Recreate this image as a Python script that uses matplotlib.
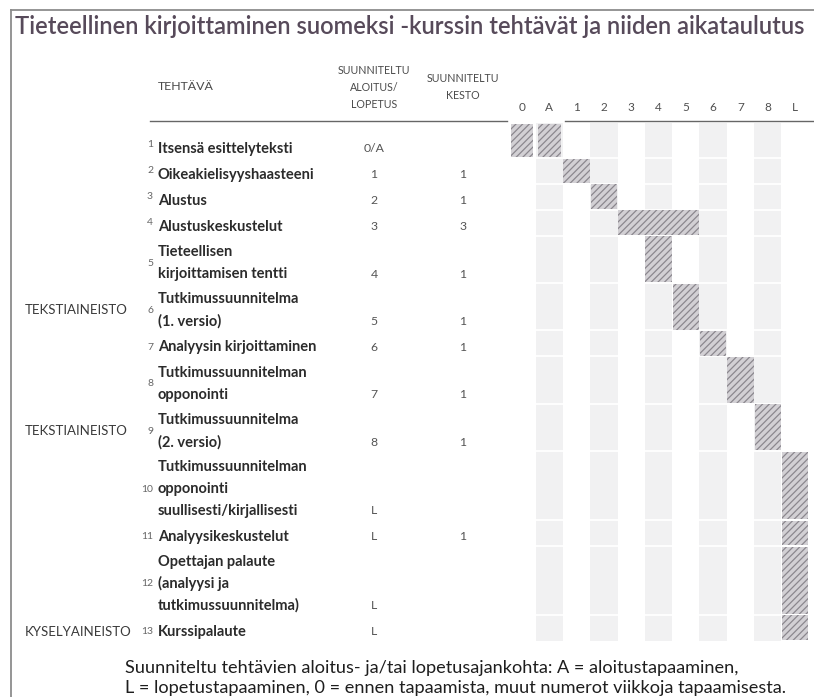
import numpy as np
import matplotlib
matplotlib.use("Agg")
import matplotlib.pyplot as plt

# ---------------- data ----------------
title = "Tieteellinen kirjoittaminen suomeksi -kurssin tehtävät ja niiden aikataulutus"
task_numbers = ["1", "2", "3", "4", "5", "6", "7", "8", "9", "10", "11", "12", "13"]
tasks = [
    "Itsensä esittelyteksti",
    "Oikeakielisyyshaasteeni",
    "Alustus",
    "Alustuskeskustelut",
    "Tieteellisen\nkirjoittamisen tentti",
    "Tutkimussuunnitelma\n(1. versio)",
    "Analyysin kirjoittaminen",
    "Tutkimussuunnitelman\nopponointi",
    "Tutkimussuunnitelma\n(2. versio)",
    "Tutkimussuunnitelman\nopponointi\nsuullisesti/kirjallisesti",
    "Analyysikeskustelut",
    "Opettajan palaute\n(analyysi ja\ntutkimussuunnitelma)",
    "Kurssipalaute",
]
material = ["", "", "", "", "", "TEKSTIAINEISTO", "", "", "TEKSTIAINEISTO",
            "", "", "", "KYSELYAINEISTO"]
planned_start = ["0/A", "1", "2", "3", "4", "5", "6", "7", "8", "L", "L", "L", "L"]
planned_duration = ["", "1", "1", "3", "1", "1", "1", "1", "1", "", "1", "", ""]
weeks = ["0", "A", "1", "2", "3", "4", "5", "6", "7", "8", "L"]
header_task = "TEHTÄVÄ"
header_start = ["SUUNNITELTU", "ALOITUS/", "LOPETUS"]
header_duration = ["SUUNNITELTU", "KESTO"]
footnote = [
    "Suunniteltu tehtävien aloitus- ja/tai lopetusajankohta: A = aloitustapaaminen,",
    "L = lopetustapaaminen, 0 = ennen tapaamista, muut numerot viikkoja tapaamisesta.",
]

# ---------------- style / layout ----------------
plt.rcParams["font.family"] = ["Lato", "DejaVu Sans"]
plt.rcParams["hatch.linewidth"] = 0.9

W, H = 814, 697
fig = plt.figure(figsize=(W / 100, H / 100), dpi=100)
base = fig.add_axes([0, 0, 1, 1])
base.set_xlim(0, W)
base.set_ylim(H, 0)
base.axis("off")
renderer = fig.canvas.get_renderer()


def fit_group(texts, sample, target):
    w = sample.get_window_extent(renderer).width
    k = target / w
    for t in texts:
        t.set_fontsize(t.get_fontsize() * k)


TOP = 123          # top of the task table (px)
FIRST_PAD = 9
LINE = 21.5
PAD = 4.4
TXT_LINE = 22
nlines = [t.count("\n") + 1 for t in tasks]
heights = [PAD + LINE * n for n in nlines]
heights[0] += FIRST_PAD
bounds = np.concatenate([[0], np.cumsum(heights)])
total = bounds[-1]

# frame
frame_c = "#8c8c8c"
base.plot([11, 11], [10, H], color=frame_c, lw=1.3)
base.plot([11, W], [10, 10], color=frame_c, lw=1.3)

# title
t_title = base.text(15, 26, title, ha="left", va="center", fontsize=15,
                    fontweight="semibold", color="#574a5a")
fit_group([t_title], t_title, 796)

# table headers
hc = "#4a4a4a"
t_h1 = base.text(158, 87, header_task, ha="left", va="center", fontsize=8, color=hc)
fit_group([t_h1], t_h1, 56)
hs = []
for i, s in enumerate(header_start):
    hs.append(base.text(374, 70 + 17.5 * i, s, ha="center", va="center", fontsize=7, color=hc))
for i, s in enumerate(header_duration):
    hs.append(base.text(463, 78 + 17.5 * i, s, ha="center", va="center", fontsize=7, color=hc))
fit_group(hs, hs[0], 72)

# header rules
base.plot([150, 507], [121, 121], color="#666666", lw=1.0)
base.plot([565, W], [121, 121], color="#666666", lw=1.0)

# table body
task_texts, num_texts, val_texts, cat_texts = [], [], [], []
for i, task in enumerate(tasks):
    lines = task.split("\n")
    bottom = TOP + bounds[i + 1]
    last_c = bottom - 9
    centers = [last_c - TXT_LINE * (len(lines) - 1 - j) for j in range(len(lines))]
    for ln, yc in zip(lines, centers):
        task_texts.append(base.text(158, yc, ln, ha="left", va="center", fontsize=9.5,
                                    fontweight="bold", color="#2b2b2b"))
    mid = np.mean(centers)
    raise_px = 4 if i < 4 else 0
    num_texts.append(base.text(153, mid - raise_px, task_numbers[i], ha="right", va="center",
                               fontsize=7.5, color="#666666"))
    val_texts.append(base.text(374, last_c, planned_start[i], ha="center", va="center",
                               fontsize=8.8, color="#555555"))
    if planned_duration[i]:
        val_texts.append(base.text(463, last_c, planned_duration[i], ha="center", va="center",
                                   fontsize=8.8, color="#555555"))
    if material[i]:
        cat_texts.append(base.text(25, mid, material[i], ha="left", va="center",
                                   fontsize=8, color="#3a3a3a"))
fit_group(task_texts, task_texts[1], 157)
fit_group(cat_texts, cat_texts[0], 102)

# footnote
foot = []
for j, ln in enumerate(footnote):
    foot.append(base.text(125, 668 + 20 * j, ln, ha="left", va="center", fontsize=11,
                          color="#1e1e1e"))
fit_group(foot, foot[1], 660)

# ---------------- Gantt part ----------------
col_w = 27.3
x0 = 522 - col_w / 2
gx = fig.add_axes([x0 / W, (H - TOP - total) / H, col_w * len(weeks) / W, total / H])
gx.set_xlim(-0.5, len(weeks) - 0.5)
gx.set_ylim(total, 0)
gx.set_facecolor("none")
for sp in gx.spines.values():
    sp.set_visible(False)

for k in range(len(weeks)):
    if k % 2 == 1:
        gx.axvspan(k - 0.5, k + 0.5, color="#f1f1f2", lw=0, zorder=0)
for b in bounds[1:-1]:
    gx.axhline(b, color="white", lw=1.3, zorder=1)

bar_face = "#d2d0d4"
bar_hatch = "#8b878e"
for i in range(len(tasks)):
    starts = planned_start[i].split("/")
    dur = int(planned_duration[i]) if (len(starts) == 1 and planned_duration[i]) else 1
    y0, y1 = bounds[i], bounds[i + 1]
    for s in starts:
        col = weeks.index(s)
        inset = 0.08 if len(starts) > 1 else 0.02
        gx.barh((y0 + y1) / 2, dur - 2 * inset, left=col - 0.5 + inset,
                height=(y1 - y0) - 1.2, color=bar_face, edgecolor=bar_hatch,
                linewidth=0, hatch="/////", zorder=2)

gx.xaxis.tick_top()
gx.set_xticks(range(len(weeks)))
gx.set_xticklabels(weeks)
gx.tick_params(axis="x", length=0, pad=7, labelsize=8.5, labelcolor="#505050")
gx.set_yticks([])

fig.savefig("out.png", dpi=100)
